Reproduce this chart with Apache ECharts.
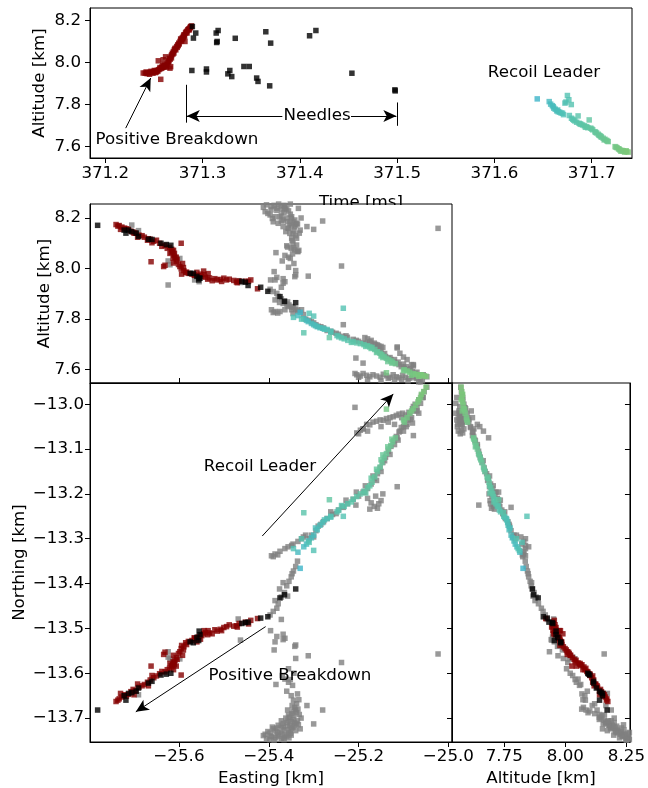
<!DOCTYPE html>
<html>
<head>
<meta charset="utf-8">
<title>Breakdown and recoil leader sources</title>
<script src="https://cdn.jsdelivr.net/npm/echarts@6/dist/echarts.min.js"></script>
<style>
  html, body { margin: 0; padding: 0; background: #fff; }
  #chart { width: 648px; height: 788px; }
</style>
</head>
<body>
<div id="chart"></div>
<script>
// Tick positions
const timeTicks = [371.2, 371.3, 371.4, 371.5, 371.6, 371.7];
const altTicks = [7.6, 7.8, 8.0, 8.2];
const eastTicks = [-25.6, -25.4, -25.2, -25.0];
const northTicks = [-13.0, -13.1, -13.2, -13.3, -13.4, -13.5, -13.6, -13.7];
const altTicksSide = [7.75, 8.0, 8.25];

// Positive breakdown sources: [time ms, easting km, northing km, altitude km]
const positiveBreakdown = [
  [371.2390,-25.452,-13.486,7.950],[371.2410,-25.445,-13.490,7.949],[371.2420,-25.440,-13.482,7.955],
  [371.2430,-25.472,-13.494,7.947],[371.2440,-25.466,-13.489,7.951],[371.2455,-25.470,-13.497,7.944],
  [371.2460,-25.478,-13.495,7.953],[371.2470,-25.488,-13.492,7.958],[371.2480,-25.494,-13.496,7.955],
  [371.2490,-25.505,-13.505,7.949],[371.2500,-25.508,-13.502,7.957],[371.2505,-25.500,-13.498,7.962],
  [371.2515,-25.526,-13.512,7.952],[371.2520,-25.520,-13.503,7.960],[371.2525,-25.515,-13.506,7.955],
  [371.2535,-25.532,-13.510,7.963],[371.2540,-25.536,-13.514,7.958],[371.2545,-25.634,-13.558,8.008],
  [371.2550,-25.541,-13.509,7.966],[371.2560,-25.549,-13.516,7.969],[371.2562,-25.544,-13.505,7.976],
  [371.2570,-25.425,-13.478,7.920],[371.2575,-25.557,-13.519,7.972],[371.2580,-25.552,-13.524,7.978],
  [371.2585,-25.566,-13.521,7.975],[371.2590,-25.560,-13.530,7.985],[371.2595,-25.631,-13.553,8.013],
  [371.2600,-25.571,-13.527,7.978],[371.2603,-25.545,-13.512,7.990],[371.2610,-25.579,-13.529,7.981],
  [371.2615,-25.585,-13.532,7.984],[371.2620,-25.662,-13.584,8.027],[371.2625,-25.583,-13.536,7.986],
  [371.2630,-25.594,-13.538,7.978],[371.2635,-25.589,-13.541,7.992],[371.2645,-25.595,-13.545,7.999],
  [371.2650,-25.590,-13.548,8.004],[371.2655,-25.598,-13.552,8.008],[371.2660,-25.592,-13.560,8.020],
  [371.2665,-25.565,-13.522,7.973],[371.2668,-25.601,-13.556,8.016],[371.2675,-25.606,-13.565,8.029],
  [371.2680,-25.612,-13.560,8.022],[371.2682,-25.604,-13.569,8.036],[371.2690,-25.609,-13.571,8.044],
  [371.2695,-25.613,-13.574,8.040],[371.2700,-25.611,-13.577,8.052],[371.2705,-25.606,-13.584,8.045],
  [371.2710,-25.610,-13.580,8.060],[371.2715,-25.617,-13.583,8.064],[371.2720,-25.614,-13.581,8.068],
  [371.2725,-25.620,-13.578,8.060],[371.2734,-25.616,-13.586,8.076],[371.2740,-25.612,-13.592,8.072],
  [371.2745,-25.621,-13.589,8.084],[371.2750,-25.626,-13.592,8.080],[371.2755,-25.631,-13.597,8.092],
  [371.2760,-25.638,-13.596,8.088],[371.2768,-25.643,-13.601,8.100],[371.2775,-25.650,-13.606,8.112],
  [371.2780,-25.656,-13.610,8.108],[371.2785,-25.660,-13.605,8.102],[371.2790,-25.664,-13.615,8.116],
  [371.2795,-25.670,-13.620,8.112],[371.2800,-25.668,-13.628,8.118],[371.2802,-25.677,-13.625,8.124],
  [371.2808,-25.682,-13.628,8.130],[371.2812,-25.689,-13.631,8.132],[371.2815,-25.692,-13.624,8.124],
  [371.2819,-25.595,-13.604,8.100],[371.2825,-25.697,-13.639,8.140],[371.2830,-25.702,-13.636,8.144],
  [371.2837,-25.707,-13.641,8.148],[371.2840,-25.700,-13.648,8.140],[371.2848,-25.713,-13.647,8.155],
  [371.2855,-25.717,-13.651,8.157],[371.2860,-25.721,-13.648,8.160],[371.2865,-25.730,-13.645,8.155],
  [371.2870,-25.727,-13.653,8.164],[371.2875,-25.736,-13.660,8.168],[371.2878,-25.733,-13.657,8.170],
  [371.2885,-25.740,-13.663,8.174],[371.2672,-25.535,-13.505,7.980]
];

// Needle sources: [time ms, easting km, northing km, altitude km]
const needles = [
  [371.2895,-25.781,-13.682,8.171],[371.2930,-25.695,-13.640,8.140],[371.2906,-25.668,-13.622,8.116],
  [371.2890,-25.555,-13.506,7.962],[371.3040,-25.560,-13.520,7.969],[371.3040,-25.556,-13.527,7.955],
  [371.3140,-25.718,-13.660,8.140],[371.3160,-25.722,-13.650,8.152],[371.3145,-25.628,-13.602,8.095],
  [371.3150,-25.640,-13.604,8.100],[371.3336,-25.660,-13.618,8.115],[371.3260,-25.452,-13.487,7.946],
  [371.3280,-25.553,-13.514,7.962],[371.3300,-25.446,-13.486,7.933],[371.3425,-25.575,-13.530,7.981],
  [371.3480,-25.568,-13.532,7.981],[371.3556,-25.418,-13.477,7.926],[371.3570,-25.402,-13.474,7.910],
  [371.3650,-25.705,-13.643,8.146],[371.3700,-25.618,-13.600,8.092],[371.3690,-25.375,-13.432,7.889],
  [371.4100,-25.690,-13.633,8.127],[371.4165,-25.712,-13.645,8.152],[371.4535,-25.460,-13.489,7.949],
  [371.4977,-25.365,-13.425,7.870],[371.4980,-25.340,-13.412,7.865]
];

// Recoil leader sources: [time ms, easting km, northing km, altitude km]
const recoilLeader = [
  [371.6440,-25.330,-13.366,7.827],[371.6563,-25.335,-13.330,7.814],[371.6578,-25.322,-13.318,7.802],
  [371.6595,-25.316,-13.312,7.795],[371.6605,-25.312,-13.305,7.790],[371.6610,-25.305,-13.298,7.783],
  [371.6625,-25.300,-13.292,7.778],[371.6640,-25.292,-13.280,7.770],[371.6650,-25.296,-13.276,7.774],
  [371.6655,-25.286,-13.270,7.766],[371.6670,-25.280,-13.264,7.764],[371.6685,-25.276,-13.258,7.760],
  [371.6700,-25.270,-13.255,7.759],[371.6710,-25.262,-13.252,7.752],[371.6725,-25.345,-13.322,7.807],
  [371.6735,-25.300,-13.326,7.812],[371.6750,-25.234,-13.250,7.843],[371.6765,-25.310,-13.308,7.823],
  [371.6790,-25.327,-13.300,7.800],[371.6770,-25.262,-13.250,7.748],[371.6792,-25.248,-13.240,7.735],
  [371.6805,-25.244,-13.236,7.730],[371.6815,-25.238,-13.226,7.726],[371.6827,-25.232,-13.228,7.722],
  [371.6845,-25.224,-13.222,7.716],[371.6860,-25.322,-13.242,7.746],[371.6870,-25.212,-13.212,7.711],
  [371.6880,-25.216,-13.218,7.708],[371.6890,-25.204,-13.206,7.706],[371.6906,-25.196,-13.200,7.703],
  [371.6925,-25.188,-13.194,7.699],[371.6935,-25.184,-13.198,7.692],[371.6948,-25.180,-13.186,7.695],
  [371.6960,-25.175,-13.182,7.690],[371.6974,-25.265,-13.213,7.727],[371.6990,-25.170,-13.174,7.688],
  [371.7000,-25.172,-13.165,7.684],[371.7010,-25.164,-13.162,7.680],[371.7033,-25.158,-13.150,7.671],
  [371.7040,-25.160,-13.145,7.668],[371.7050,-25.152,-13.140,7.665],[371.7067,-25.148,-13.130,7.659],
  [371.7075,-25.150,-13.124,7.654],[371.7085,-25.143,-13.120,7.652],[371.7095,-25.146,-13.113,7.648],
  [371.7100,-25.138,-13.110,7.645],[371.7118,-25.133,-13.100,7.640],[371.7128,-25.135,-13.095,7.632],
  [371.7136,-25.128,-13.092,7.635],[371.7152,-25.124,-13.084,7.630],[371.7160,-25.126,-13.078,7.626],
  [371.7170,-25.118,-13.075,7.624],[371.7240,-25.098,-13.040,7.600],[371.7250,-25.100,-13.035,7.597],
  [371.7260,-25.092,-13.030,7.595],[371.7275,-25.086,-13.020,7.590],[371.7282,-25.138,-13.011,7.588],
  [371.7290,-25.078,-13.010,7.584],[371.7300,-25.082,-13.015,7.578],[371.7310,-25.073,-13.002,7.582],
  [371.7324,-25.068,-12.995,7.580],[371.7338,-25.066,-12.990,7.574],[371.7345,-25.062,-12.985,7.578],
  [371.7355,-25.060,-12.978,7.580],[371.7360,-25.055,-12.972,7.576],[371.7375,-25.050,-12.962,7.574]
];

// All other sources in the flash: [easting km, northing km, altitude km]
const otherSources = [
  // southern branch, lower end
  [-25.405,-13.745,8.252],[-25.394,-13.742,8.245],[-25.382,-13.738,8.239],[-25.371,-13.735,8.232],
  [-25.360,-13.740,8.235],[-25.408,-13.736,8.225],[-25.397,-13.733,8.212],[-25.386,-13.728,8.205],
  [-25.375,-13.731,8.205],[-25.368,-13.722,8.192],[-25.359,-13.718,8.185],[-25.353,-13.716,8.179],
  [-25.346,-13.720,8.185],[-25.338,-13.712,8.179],[-25.390,-13.724,8.185],[-25.379,-13.716,8.179],
  [-25.368,-13.712,8.166],[-25.357,-13.705,8.159],[-25.362,-13.700,8.146],[-25.353,-13.698,8.139],
  [-25.346,-13.703,8.139],[-25.349,-13.690,8.120],[-25.346,-13.684,8.100],[-25.338,-13.688,8.093],
  [-25.342,-13.676,8.074],[-25.335,-13.680,8.067],[-25.372,-13.746,8.248],[-25.385,-13.744,8.258],
  [-25.352,-13.727,8.215],[-25.343,-13.709,8.165],[-25.412,-13.739,8.242],[-25.366,-13.744,8.222],
  [-25.350,-13.738,8.198],[-25.340,-13.728,8.172],[-25.330,-13.724,8.152],[-25.356,-13.731,8.228],
  [-25.398,-13.748,8.262],[-25.388,-13.749,8.250],[-25.378,-13.741,8.255],[-25.364,-13.737,8.245],
  [-25.355,-13.744,8.260],[-25.402,-13.730,8.218],[-25.392,-13.720,8.198],[-25.382,-13.722,8.230],
  [-25.372,-13.718,8.210],[-25.364,-13.726,8.240],[-25.349,-13.722,8.205],[-25.342,-13.716,8.192],
  [-25.336,-13.706,8.176],[-25.360,-13.710,8.200],[-25.372,-13.706,8.188],[-25.350,-13.708,8.172],
  [-25.344,-13.695,8.150],[-25.356,-13.693,8.160],[-25.340,-13.682,8.130],[-25.348,-13.672,8.110],
  [-25.332,-13.692,8.140],[-25.328,-13.700,8.200],[-25.358,-13.682,8.085],[-25.345,-13.660,8.082],
  [-25.338,-13.668,8.120],[-25.380,-13.732,8.262],[-25.395,-13.740,8.232],[-25.366,-13.748,8.250],
  [-25.352,-13.734,8.255],[-25.334,-13.715,8.238],
  // southern branch, scattered part
  [-25.396,-13.505,7.955],[-25.368,-13.513,7.960],[-25.382,-13.518,7.965],[-25.364,-13.522,7.948],
  [-25.388,-13.548,7.988],[-25.340,-13.537,7.975],[-25.340,-13.567,7.992],[-25.312,-13.561,7.970],
  [-25.384,-13.625,8.063],[-25.364,-13.613,8.052],[-25.356,-13.620,8.045],[-25.347,-13.627,8.058],
  [-25.352,-13.614,8.040],[-25.336,-13.646,8.068],[-25.333,-13.659,8.072],[-25.315,-13.672,8.166],
  [-25.280,-13.682,8.188],[-25.300,-13.713,8.155],[-25.386,-13.530,7.955],[-25.368,-13.525,7.942],
  [-25.342,-13.540,7.968],[-25.372,-13.480,7.926],[-25.360,-13.640,8.090],[-25.350,-13.650,8.080],
  [-25.370,-13.605,8.030],[-25.344,-13.600,8.020],[-25.356,-13.590,8.005],
  // stem north of the breakdown region
  [-25.397,-13.470,7.918],[-25.390,-13.462,7.909],[-25.382,-13.455,7.902],[-25.379,-13.445,7.890],
  [-25.386,-13.438,7.876],[-25.372,-13.430,7.880],[-25.365,-13.420,7.872],[-25.376,-13.412,7.866],
  [-25.360,-13.405,7.860],[-25.355,-13.395,7.856],[-25.368,-13.398,7.862],[-25.350,-13.385,7.850],
  [-25.345,-13.372,7.845],[-25.340,-13.362,7.840],[-25.336,-13.350,7.836],[-25.348,-13.378,7.848],
  [-25.358,-13.428,7.868],
  // start of the north-east channel
  [-25.394,-13.338,7.837],[-25.386,-13.334,7.830],[-25.375,-13.328,7.830],[-25.364,-13.322,7.837],
  [-25.357,-13.318,7.850],[-25.349,-13.315,7.837],[-25.346,-13.312,7.822],[-25.335,-13.306,7.830],
  [-25.327,-13.300,7.837],[-25.323,-13.296,7.818],[-25.390,-13.340,7.826],[-25.380,-13.336,7.824],
  // north-east channel
  [-25.310,-13.300,7.795],[-25.305,-13.292,7.790],[-25.295,-13.282,7.778],[-25.290,-13.272,7.772],
  [-25.278,-13.262,7.765],[-25.270,-13.255,7.755],[-25.258,-13.246,7.748],[-25.245,-13.236,7.740],
  [-25.236,-13.228,7.732],[-25.225,-13.222,7.728],[-25.212,-13.212,7.720],[-25.200,-13.205,7.712],
  [-25.190,-13.196,7.706],[-25.180,-13.188,7.700],[-25.172,-13.178,7.694],[-25.165,-13.166,7.685],
  [-25.158,-13.155,7.678],[-25.152,-13.142,7.668],[-25.146,-13.130,7.660],[-25.140,-13.118,7.652],
  [-25.134,-13.105,7.645],[-25.128,-13.094,7.640],[-25.122,-13.082,7.632],[-25.116,-13.072,7.625],
  [-25.110,-13.062,7.620],[-25.105,-13.052,7.612],[-25.098,-13.040,7.605],[-25.092,-13.030,7.600],
  [-25.086,-13.020,7.598],[-25.080,-13.010,7.592],[-25.074,-13.000,7.585],[-25.066,-12.990,7.580],
  [-25.060,-12.980,7.578],[-25.054,-12.972,7.575],[-25.048,-12.962,7.572],
  [-25.318,-13.292,7.800],[-25.300,-13.296,7.785],[-25.284,-13.268,7.770],[-25.262,-13.240,7.752],
  [-25.250,-13.244,7.744],[-25.228,-13.214,7.734],[-25.205,-13.196,7.716],[-25.185,-13.182,7.705],
  [-25.168,-13.160,7.690],[-25.160,-13.170,7.682],[-25.150,-13.150,7.672],[-25.142,-13.126,7.664],
  [-25.130,-13.112,7.648],[-25.120,-13.090,7.640],[-25.112,-13.080,7.630],[-25.100,-13.060,7.622],
  [-25.094,-13.050,7.612],[-25.084,-13.034,7.605],[-25.070,-13.008,7.590],[-25.056,-12.985,7.580],
  // blob east of the channel
  [-25.186,-13.196,7.727],[-25.180,-13.210,7.722],[-25.172,-13.220,7.716],[-25.165,-13.228,7.705],
  [-25.158,-13.232,7.698],[-25.150,-13.215,7.692],[-25.146,-13.200,7.688],[-25.175,-13.234,7.710],
  [-25.162,-13.205,7.700],[-25.155,-13.222,7.694],
  // upper side of the channel
  [-25.114,-13.075,7.686],[-25.108,-13.060,7.665],[-25.100,-13.050,7.650],[-25.092,-13.045,7.640],
  [-25.082,-13.030,7.620],[-25.078,-13.015,7.615],
  // western side branch near the top
  [-25.208,-13.007,7.585],[-25.204,-13.064,7.580],[-25.196,-13.058,7.575],[-25.190,-13.055,7.585],
  [-25.182,-13.045,7.578],[-25.175,-13.046,7.572],[-25.168,-13.040,7.580],[-25.160,-13.038,7.575],
  [-25.152,-13.035,7.570],[-25.145,-13.036,7.582],[-25.138,-13.032,7.576],[-25.130,-13.030,7.570],
  [-25.123,-13.028,7.580],[-25.116,-13.025,7.572],[-25.110,-13.022,7.568],[-25.102,-13.020,7.578],
  [-25.096,-13.024,7.570],[-25.088,-13.018,7.566],[-25.080,-13.042,7.575],[-25.078,-13.005,7.568],
  [-25.070,-13.015,7.565],[-25.062,-12.998,7.552],[-25.058,-12.985,7.556],
  [-25.066,-13.020,7.552],[-25.090,-13.035,7.556],[-25.120,-13.045,7.560],[-25.150,-13.050,7.558],
  [-25.180,-13.060,7.562],[-25.200,-13.066,7.570],[-25.134,-13.040,7.566],[-25.104,-13.030,7.562],
  // isolated sources
  [-25.023,-13.557,8.159],[-25.238,-13.576,8.010],[-25.234,-13.230,7.778],[-25.206,-13.225,7.646],
  [-25.114,-13.184,7.690],[-25.190,-13.055,7.626],[-25.078,-13.070,7.620],
  // along the breakdown path
  [-25.624,-13.552,7.935],[-25.624,-13.564,8.030],[-25.620,-13.568,8.015],[-25.598,-13.568,8.040],
  [-25.705,-13.645,8.172],[-25.565,-13.525,7.955],[-25.555,-13.518,7.948],[-25.468,-13.479,7.952],
  [-25.463,-13.526,7.945],[-25.690,-13.648,8.150]
];

const FONT = 'DejaVu Sans';
const FONT_SIZE = 16.7;
const RED = '#850000';
const GRAY = '#808080';
const BLACK = '#000000';
const recoilColors = ['#3cb4c8', '#52c2b2', '#66c69a', '#7dc878'];

function fmt(d) {
  return function (v) { return Number(v).toFixed(d).replace('-', '\u2212'); };
}

function axis(o) {
  const ax = {
    type: 'value',
    gridIndex: o.grid,
    min: o.min,
    max: o.max,
    position: o.position,
    splitLine: { show: false },
    axisLine: { show: true, lineStyle: { color: '#000', width: 1 } },
    axisTick: {
      show: true,
      inside: !!o.inside,
      length: 5,
      lineStyle: { color: '#000', width: 1 },
      customValues: o.ticks
    },
    axisLabel: {
      show: !!o.labels,
      customValues: o.ticks,
      formatter: o.labels || undefined,
      color: '#000',
      fontFamily: FONT,
      fontSize: FONT_SIZE,
      margin: o.margin == null ? 7 : o.margin
    }
  };
  if (o.name) {
    ax.name = o.name;
    ax.nameLocation = 'middle';
    ax.nameGap = o.nameGap;
    ax.nameMoveOverlap = false;
    ax.nameTextStyle = { color: '#000', fontFamily: FONT, fontSize: FONT_SIZE };
  }
  return ax;
}

const grids = [
  { left: 90, top: 8, width: 542, height: 150 },
  { left: 90, top: 204, width: 362, height: 179 },
  { left: 90, top: 383, width: 362, height: 360 },
  { left: 452, top: 383, width: 180, height: 360 }
].map(g => Object.assign({ show: true, borderColor: '#000', borderWidth: 1, backgroundColor: 'transparent' }, g));

const E_MIN = -25.798, E_MAX = -24.992;
const N_MIN = -13.7533, N_MAX = -12.9527;

const xAxes = [
  axis({ grid: 0, min: 371.1843, max: 371.7414, ticks: timeTicks, labels: fmt(1), name: 'Time [ms]', nameGap: 36, margin: 7 }),
  axis({ grid: 1, min: E_MIN, max: E_MAX, ticks: eastTicks, inside: true }),
  axis({ grid: 2, min: E_MIN, max: E_MAX, ticks: eastTicks, labels: fmt(1), name: 'Easting [km]', nameGap: 28, margin: 6 }),
  axis({ grid: 3, min: 7.5363, max: 8.2645, ticks: altTicksSide, labels: fmt(2), name: 'Altitude [km]', nameGap: 28, margin: 6 })
];

const yAxes = [
  axis({ grid: 0, min: 7.546, max: 8.259, ticks: altTicks, labels: fmt(1), name: 'Altitude [km]', nameGap: 41.5, margin: 9, position: 'left' }),
  axis({ grid: 1, min: 7.5474, max: 8.2553, ticks: altTicks, labels: fmt(1), name: 'Altitude [km]', nameGap: 36.5, margin: 9, position: 'left' }),
  axis({ grid: 2, min: N_MIN, max: N_MAX, ticks: northTicks, labels: fmt(1), name: 'Northing [km]', nameGap: 62, margin: 6, position: 'left' }),
  axis({ grid: 2, min: N_MIN, max: N_MAX, ticks: northTicks, inside: true, position: 'right' }),
  axis({ grid: 3, min: N_MIN, max: N_MAX, ticks: northTicks, position: 'left' }),
  axis({ grid: 3, min: N_MIN, max: N_MAX, ticks: northTicks, inside: true, position: 'right' })
];

function scatter(data, xi, yi, xDim, yDim, color) {
  const s = {
    type: 'scatter',
    data: data,
    xAxisIndex: xi,
    yAxisIndex: yi,
    encode: { x: xDim, y: yDim },
    symbol: 'rect',
    symbolSize: 5.5,
    silent: true,
    animation: false,
    clip: true
  };
  if (color) s.itemStyle = { color: color };
  return s;
}

function arrows(lines) {
  return {
    silent: true,
    animation: false,
    symbol: ['none', 'arrow'],
    symbolSize: [9, 13],
    label: { show: false },
    lineStyle: { color: '#000', width: 1, type: 'solid' },
    emphasis: { disabled: true },
    data: lines
  };
}

// Top panel: time against altitude
const topRed = scatter(positiveBreakdown, 0, 0, 0, 3, RED);
topRed.markLine = arrows([
  [{ coord: [371.221, 7.688] }, { coord: [371.2467, 7.926] }],
  [{ coord: [371.283, 7.894], symbol: 'none' }, { coord: [371.283, 7.714], symbol: 'none' }],
  [{ coord: [371.5, 7.81], symbol: 'none' }, { coord: [371.5, 7.699], symbol: 'none' }],
  [{ coord: [371.382, 7.746] }, { coord: [371.2838, 7.746] }],
  [{ coord: [371.4526, 7.746] }, { coord: [371.4992, 7.746] }]
]);
const topBlack = scatter(needles, 0, 0, 0, 3, BLACK);
const topRecoil = scatter(recoilLeader, 0, 0, 0, 3, null);

// Side view: easting against altitude
const midGray = scatter(otherSources, 1, 1, 0, 2, GRAY);
const midRecoil = scatter(recoilLeader, 1, 1, 1, 3, null);
const midRed = scatter(positiveBreakdown, 1, 1, 1, 3, RED);
const midBlack = scatter(needles, 1, 1, 1, 3, BLACK);

// Plan view: easting against northing
const planGray = scatter(otherSources, 2, 2, 0, 1, GRAY);
const planRecoil = scatter(recoilLeader, 2, 2, 1, 2, null);
const planRed = scatter(positiveBreakdown, 2, 2, 1, 2, RED);
planRed.markLine = arrows([
  [{ coord: [-25.4145, -13.294] }, { coord: [-25.1227, -12.977] }],
  [{ coord: [-25.407, -13.496] }, { coord: [-25.696, -13.686] }]
]);
const planBlack = scatter(needles, 2, 2, 1, 2, BLACK);

// Side view: altitude against northing
const sideGray = scatter(otherSources, 3, 4, 2, 1, GRAY);
const sideRecoil = scatter(recoilLeader, 3, 4, 3, 2, null);
const sideRed = scatter(positiveBreakdown, 3, 4, 3, 2, RED);
const sideBlack = scatter(needles, 3, 4, 3, 2, BLACK);

const series = [
  topRed, topBlack, topRecoil,
  midGray, midRecoil, midRed, midBlack,
  planGray, planRecoil, planRed, planBlack,
  sideGray, sideRecoil, sideRed, sideBlack
];

function label(text, x, y) {
  return {
    type: 'text',
    x: x, y: y, z: 10,
    silent: true,
    style: { text: text, fill: '#000', font: FONT_SIZE + 'px "' + FONT + '"', align: 'center', verticalAlign: 'middle' }
  };
}

const option = {
  backgroundColor: '#fff',
  animation: false,
  grid: grids,
  xAxis: xAxes,
  yAxis: yAxes,
  visualMap: {
    type: 'continuous',
    show: false,
    dimension: 0,
    min: 371.644,
    max: 371.738,
    seriesIndex: [2, 4, 8, 12],
    inRange: { color: recoilColors }
  },
  series: series,
  graphic: [
    // white band of the side-view panel that hides the lower part of the time label
    { type: 'rect', z: 1, silent: true, shape: { x: 303, y: 205, width: 117, height: 14 }, style: { fill: '#fff' } },
    label('Positive Breakdown', 177, 140),
    label('Needles', 317, 116),
    label('Recoil Leader', 544, 73),
    label('Recoil Leader', 260, 467),
    label('Positive Breakdown', 290, 676)
  ]
};

const chart = echarts.init(document.getElementById('chart'), null, { renderer: 'canvas', width: 648, height: 788 });
chart.setOption(option);
</script>
</body>
</html>
